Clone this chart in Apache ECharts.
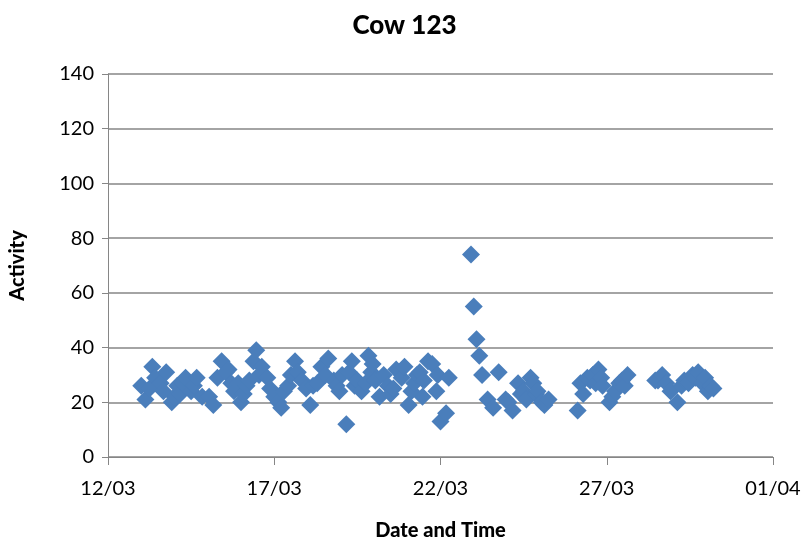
<!DOCTYPE html>
<html>
<head>
<meta charset="utf-8">
<script src="https://cdn.jsdelivr.net/npm/echarts@6/dist/echarts.min.js"></script>
<style>
  html, body { margin: 0; padding: 0; background: #fff; }
  #chart { width: 809px; height: 546px; }
</style>
</head>
<body>
<div id="chart"></div>
<script>
// readings: "day hour" in March, activity value
const times = [
  '13 00','13 03','13 06','13 08','13 10','13 14','13 16','13 18','13 22',
  '14 00','14 02','14 04','14 06','14 08','14 12','14 14','14 16','14 20',
  '15 01','15 04','15 07','15 10','15 13','15 15','15 17','15 19','15 22',
  '16 00','16 02','16 04','16 06','16 09','16 11','16 13','16 15','16 19','16 21',
  '17 00','17 03','17 05','17 07','17 10','17 12','17 15','17 17','17 20','17 23',
  '18 02','18 04','18 07','18 10','18 13','18 15','18 19','18 21','18 23',
  '19 01','19 04','19 06','19 08','19 10','19 12','19 15','19 18','19 20','19 22','19 23',
  '20 01','20 04','20 07','20 10','20 12','20 14','20 16','20 20','20 22',
  '21 01','21 03','21 05','21 07','21 09','21 11','21 12','21 15','21 18','21 21','21 22',
  '22 00','22 04','22 06','22 22',
  '23 00','23 02','23 04','23 06','23 10','23 14','23 18','23 23',
  '24 01','24 04','24 08','24 10','24 12','24 14','24 17','24 19','24 21','24 22',
  '25 01','25 03','25 06',
  '26 03','26 05','26 07','26 10','26 12','26 14','26 16','26 18','26 20','26 21',
  '27 02','27 04','27 06','27 09','27 11','27 13','27 15',
  '28 11','28 13','28 16','28 19','28 22',
  '29 03','29 06','29 08','29 11','29 14','29 16','29 18','29 21','29 23',
  '30 01','30 03','30 05'
];
const activity = [
  26, 21, 25, 33, 29, 27, 24, 31, 20,
  22, 26, 23, 27, 29, 24, 26, 29, 22,
  22, 19, 29, 35, 31, 32, 27, 24, 27,
  20, 23, 26, 28, 35, 39, 30, 33, 29, 25,
  22, 20, 18, 24, 26, 30, 35, 31, 28, 25,
  19, 26, 27, 33, 30, 36, 28, 26, 24,
  30, 12, 31, 35, 26, 28, 24, 27, 37, 31, 34,
  28, 22, 30, 26, 23, 25, 32, 29, 33,
  19, 24, 27, 30, 31, 22, 28, 35, 34, 24, 30,
  13, 16, 29, 74,
  55, 43, 37, 30, 21, 18, 31, 21,
  20, 17, 27, 23, 24, 21, 29, 27, 23, 24,
  20, 19, 21,
  17, 27, 23, 29, 28, 30, 27, 32, 29, 26,
  20, 22, 24, 27, 28, 26, 30,
  28, 28, 30, 27, 24,
  20, 26, 28, 27, 30, 29, 31, 27, 29,
  24, 26, 25
];
const xTicks = ['12/03', '17/03', '22/03', '27/03', '01/04'];

const DAY = 86400000;
const start = Date.UTC(2011, 2, 12);
const points = times.map(function (t, i) {
  const parts = t.split(' ');
  const ms = Date.UTC(2011, 2, +parts[0], +parts[1]);
  return [(ms - start) / DAY, activity[i]];
});

const font = 'Lato, "Open Sans", sans-serif';
const chart = echarts.init(document.getElementById('chart'));
chart.setOption({
  animation: false,
  backgroundColor: '#fff',
  title: {
    text: 'Cow 123',
    left: 'center',
    top: 8,
    textStyle: { fontFamily: font, fontWeight: 900, fontSize: 26, color: '#000' }
  },
  grid: { left: 108, right: 36, top: 74, bottom: 89 },
  xAxis: {
    type: 'value',
    min: 0,
    max: 20,
    interval: 5,
    name: 'Date and Time',
    nameLocation: 'middle',
    nameGap: 64,
    nameTextStyle: { fontFamily: font, fontWeight: 900, fontSize: 20, color: '#000' },
    axisLine: { lineStyle: { color: '#868686', width: 1 } },
    axisTick: { show: true, length: 8, lineStyle: { color: '#868686' } },
    axisLabel: {
      fontFamily: font, fontSize: 20, color: '#000', margin: 22,
      formatter: function (v) { return xTicks[Math.round(v / 5)]; }
    },
    splitLine: { show: false }
  },
  yAxis: {
    type: 'value',
    min: 0,
    max: 140,
    interval: 20,
    name: 'Activity',
    nameLocation: 'middle',
    nameGap: 80,
    nameTextStyle: { fontFamily: font, fontWeight: 900, fontSize: 20, color: '#000' },
    axisLine: { show: true, lineStyle: { color: '#868686', width: 1 } },
    axisTick: { show: true, length: 6, lineStyle: { color: '#868686' } },
    axisLabel: { fontFamily: font, fontSize: 20, color: '#000', margin: 14 },
    splitLine: { lineStyle: { color: '#868686', width: 1.5 } }
  },
  series: [{
    type: 'scatter',
    symbol: 'diamond',
    symbolSize: 18,
    itemStyle: { color: '#4a7ebb', opacity: 1 },
    data: points
  }]
});
</script>
</body>
</html>
